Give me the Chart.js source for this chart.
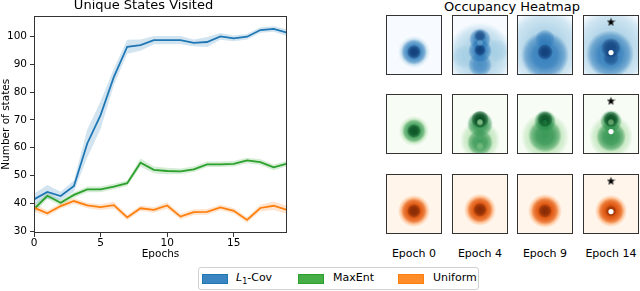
<!DOCTYPE html>
<html>
<head>
<meta charset="utf-8">
<script src="https://cdn.jsdelivr.net/npm/chart.js@4.4.1/dist/chart.umd.min.js"></script>
<style>
  body { margin: 0; width: 640px; height: 291px; background: #fff; overflow: hidden; position: relative;
         font-family: 'DejaVu Sans', sans-serif; color: #000; }
  #lineWrap { position: absolute; left: 0; top: -2px; }
  .hm { position: absolute; width: 54px; height: 58px; border: 1px solid #333; }
  .hm canvas { display: block; }
  .lbl { position: absolute; font-size: 11px; transform: translate(-50%, -50%); white-space: nowrap; }
  #hmTitle { font-size: 13px; }
  #legend { position: absolute; left: 198px; top: 267px; width: 279px; height: 21px;
            border: 1px solid #d0d0d0; border-radius: 3px; background: #fff; }
  .sw { position: absolute; top: 6px; width: 24px; height: 8px; }
  .lt { position: absolute; top: 3px; font-size: 11px; line-height: 14px; }
</style>
</head>
<body>
<div id="lineWrap"><canvas id="lineChart" width="292" height="264"></canvas></div>
<div class="lbl" id="hmTitle" style="left:512px; top:6px;">Occupancy Heatmap</div>
<div id="heatmaps"></div>
<div id="legend">
  <div class="sw" style="left:3px; background:#3b86c0; border:1px solid #1f77b4;"></div>
  <div class="lt" style="left:37px;"><i>L</i><sub style="font-size:8px; line-height:0;">1</sub>-Cov</div>
  <div class="sw" style="left:99px; background:#47ae47; border:1px solid #2ca02c;"></div>
  <div class="lt" style="left:134px;">MaxEnt</div>
  <div class="sw" style="left:199px; background:#ff8c2a; border:1px solid #ff7f0e;"></div>
  <div class="lt" style="left:234px;">Uniform</div>
</div>
<script>
//  Line chart data 
const epochs   = [0, 1, 2, 3, 4, 5, 6, 7, 8, 9, 10, 11, 12, 13, 14, 15, 16, 17, 18, 19];
const xTicks   = [0, 5, 10, 15];
const yTicks   = [30, 40, 50, 60, 70, 80, 90, 100];

const covMean  = [41.4, 44.1, 42.6, 46.2, 61.5, 71.7, 85.5, 96.3, 96.9, 98.7, 98.7, 98.7, 97.7, 98.0, 100.0, 99.3, 99.9, 102.3, 102.7, 101.4];
const covErr   = [2.0, 2.5, 1.5, 2.0, 5.0, 5.0, 3.0, 2.5, 2.0, 1.5, 1.5, 1.5, 1.2, 1.8, 1.2, 1.0, 1.0, 1.0, 1.0, 1.2];
const entMean  = [37.9, 42.7, 40.2, 43.0, 45.0, 45.0, 46.0, 47.2, 54.6, 52.0, 51.6, 51.5, 52.2, 54.0, 54.0, 54.2, 55.4, 54.8, 52.9, 54.3];
const entErr   = [1.5, 1.2, 1.0, 1.0, 1.0, 1.0, 1.0, 1.0, 1.5, 1.2, 1.2, 1.0, 1.0, 1.0, 1.0, 1.0, 1.0, 1.0, 1.0, 1.0];
const uniMean  = [38.4, 36.4, 39.0, 40.8, 39.2, 38.6, 39.3, 34.9, 38.2, 37.6, 39.2, 35.2, 36.8, 36.9, 38.5, 37.3, 34.0, 38.3, 39.1, 37.6];
const uniErr   = [1.5, 1.0, 1.0, 1.0, 1.0, 1.0, 1.2, 1.0, 1.0, 1.0, 1.2, 1.0, 1.0, 1.0, 1.0, 1.0, 1.0, 1.2, 1.5, 1.5];

//  Heatmap data: blobs [x, y, radius px, alpha, shade] per epoch 
const epochLabels = ['Epoch 0', 'Epoch 4', 'Epoch 9', 'Epoch 14'];
const covBlobs = [
  [[0.5,0.62,16,0.8,1],[0.5,0.62,13,0.85,2],[0.5,0.62,7,0.8,3]],
  [[0.5,0.68,33,0.8,1],[0.2,0.7,12,0.6,1],[0.8,0.6,12,0.6,1],[0.5,0.4,11,0.8,2],[0.5,0.6,12,0.85,2],[0.5,0.84,12,0.7,2],[0.5,0.59,6,0.8,3],[0.5,0.34,6,0.6,3],[0.5,0.46,3.5,0.4,1]],
  [[0.5,0.55,40,0.8,1],[0.5,0.68,24,0.85,2],[0.5,0.4,10,0.6,2],[0.5,0.62,8,0.8,3]],
  [[0.5,0.55,40,0.8,1],[0.48,0.66,24,0.85,2],[0.5,0.55,10,0.7,3],[0.5,0.72,8,0.5,3]]
];
const entBlobs = [
  [[0.5,0.62,15,0.8,1],[0.5,0.62,12,0.85,2],[0.5,0.62,7,0.8,3]],
  [[0.5,0.78,20,0.7,1],[0.5,0.82,13,0.8,2],[0.5,0.5,13,0.85,2],[0.5,0.42,9,0.9,3],[0.5,0.47,3.5,0.8,1],[0.5,0.88,4,0.4,1]],
  [[0.5,0.72,24,0.7,1],[0.5,0.7,17,0.85,2],[0.5,0.45,11,0.85,2],[0.5,0.42,8,0.8,3],[0.5,0.47,3,0.5,2]],
  [[0.5,0.72,22,0.7,1],[0.5,0.72,15,0.85,2],[0.5,0.45,11,0.85,2],[0.5,0.42,8,0.85,3],[0.5,0.47,3.5,0.6,1]]
];
const uniBlobs = [
  [[0.5,0.62,16,0.85,1],[0.5,0.62,13,0.9,2],[0.5,0.62,7,0.9,3]],
  [[0.5,0.6,16,0.85,1],[0.5,0.6,13,0.9,2],[0.5,0.6,7,0.9,3]],
  [[0.5,0.62,17,0.85,1],[0.5,0.62,14,0.9,2],[0.5,0.62,7,0.9,3]],
  [[0.5,0.62,16,0.85,1],[0.5,0.62,13,0.9,2],[0.5,0.62,6,0.7,3]]
];
// start marker (star) and current position (dot), shown on last epoch
const starPos = { x: 0.5, y: 0.1 };
const dotPos  = { x: 0.5, y: 0.63 };

const palettes = {
  cov: ['#f7fbff', '#9ecae1', '#2171b5', '#08306b'],
  ent: ['#f7fcf5', '#a1d99b', '#238b45', '#00441b'],
  uni: ['#fff5eb', '#fd8d3c', '#d94801', '#7f2704']
};

//  Line chart 
const font = { family: 'DejaVu Sans', size: 10.5 };

function band(mean, err, color, sign, fill) {
  return {
    data: mean.map((m, i) => m + sign * err[i]),
    borderWidth: 0, pointRadius: 0, backgroundColor: color, fill: fill, order: 10
  };
}

const frame = {
  id: 'frame',
  afterDraw(chart) {
    const { ctx, chartArea: a } = chart;
    ctx.save();
    ctx.strokeStyle = '#333';
    ctx.lineWidth = 1;
    ctx.strokeRect(Math.round(a.left) + 0.5, Math.round(a.top) + 0.5,
                   Math.round(a.right - a.left) - 1, Math.round(a.bottom - a.top) - 1);
    ctx.restore();
  }
};

new Chart(document.getElementById('lineChart'), {
  type: 'line',
  data: {
    labels: epochs,
    datasets: [
      { label: 'Uniform', data: uniMean, borderColor: '#ff7f0e', borderWidth: 1.8, pointRadius: 0, fill: false, order: 0 },
      { label: 'MaxEnt', data: entMean, borderColor: '#2ca02c', borderWidth: 1.8, pointRadius: 0, fill: false, order: 1 },
      { label: 'L1-Cov', data: covMean, borderColor: '#1f77b4', borderWidth: 1.8, pointRadius: 0, fill: false, order: 2 },
      band(covMean, covErr, 'rgba(31,119,180,0.2)', 1, '+1'),
      band(covMean, covErr, 'rgba(0,0,0,0)', -1, false),
      band(entMean, entErr, 'rgba(44,160,44,0.2)', 1, '+1'),
      band(entMean, entErr, 'rgba(0,0,0,0)', -1, false),
      band(uniMean, uniErr, 'rgba(255,127,14,0.2)', 1, '+1'),
      band(uniMean, uniErr, 'rgba(0,0,0,0)', -1, false)
    ].map(d => Object.assign({ tension: 0 }, d))
  },
  options: {
    responsive: false,
    animation: false,
    events: [],
    layout: { padding: { left: 0, right: 5, top: 0, bottom: 0 } },
    plugins: {
      legend: { display: false },
      tooltip: { enabled: false },
      title: {
        display: true, text: 'Unique States Visited', color: '#000',
        font: { family: 'DejaVu Sans', size: 13, weight: 'normal' },
        padding: { top: 0, bottom: 2 }
      }
    },
    scales: {
      x: {
        type: 'linear', min: 0, max: 19,
        afterBuildTicks: s => { s.ticks = xTicks.map(v => ({ value: v })); },
        afterFit: s => { s.height = 29; },
        ticks: { color: '#000', font: font, padding: 0, maxRotation: 0 },
        grid: { drawOnChartArea: false, drawTicks: true, tickLength: 4, tickColor: '#333' },
        border: { display: false },
        title: { display: true, text: 'Epochs', color: '#000', font: font, padding: { top: 0, bottom: 1 } }
      },
      y: {
        min: 29.3, max: 107.5,
        afterBuildTicks: s => { s.ticks = yTicks.map(v => ({ value: v })); },
        afterFit: s => { s.width = 34; },
        ticks: { color: '#000', font: font, padding: 3 },
        grid: { drawOnChartArea: false, drawTicks: true, tickLength: 4, tickColor: '#333' },
        border: { display: false },
        title: { display: true, text: 'Number of states', color: '#000', font: font, padding: { top: 0, bottom: 0 } }
      }
    }
  },
  plugins: [frame]
});

//  Heatmaps 
function makeStar(size) {
  const c = document.createElement('canvas');
  c.width = c.height = size;
  const g = c.getContext('2d');
  g.fillStyle = '#000';
  g.beginPath();
  for (let i = 0; i < 10; i++) {
    const r = i % 2 ? size * 0.2 : size * 0.5;
    const a = -Math.PI / 2 + i * Math.PI / 5;
    g.lineTo(size / 2 + r * Math.cos(a), size / 2 + 0.5 + r * Math.sin(a));
  }
  g.closePath();
  g.fill();
  return c;
}
const starImg = makeStar(9);

function hexA(hex, a) {
  const n = parseInt(hex.slice(1), 16);
  return `rgba(${n >> 16},${(n >> 8) & 255},${n & 255},${a})`;
}

function blobFill(pal) {
  return ctx => {
    const p = ctx.raw;
    if (!p || !ctx.chart.chartArea) return 'rgba(0,0,0,0)';
    const ch = ctx.chart;
    const x = ch.scales.x.getPixelForValue(p.x);
    const y = ch.scales.y.getPixelForValue(p.y);
    const g = ch.ctx.createRadialGradient(x, y, 0, x, y, p.r);
    const col = pal[p.s];
    g.addColorStop(0, hexA(col, p.a));
    g.addColorStop(0.5, hexA(col, p.a * 0.9));
    g.addColorStop(0.8, hexA(col, p.a * 0.55));
    g.addColorStop(1, hexA(col, 0));
    return g;
  };
}

const rows = [
  { blobs: covBlobs, pal: palettes.cov },
  { blobs: entBlobs, pal: palettes.ent },
  { blobs: uniBlobs, pal: palettes.uni }
];
const colLeft = [386, 452, 517, 583];
const rowTop  = [15, 94, 173.5];
const host = document.getElementById('heatmaps');

rows.forEach((row, r) => {
  row.blobs.forEach((blobs, c) => {
    const div = document.createElement('div');
    div.className = 'hm';
    div.style.left = colLeft[c] + 'px';
    div.style.top = rowTop[r] + 'px';
    div.style.background = row.pal[0];
    const cv = document.createElement('canvas');
    cv.width = 54; cv.height = 58;
    div.appendChild(cv);
    host.appendChild(div);

    const datasets = [{
      data: blobs.map(b => ({ x: b[0], y: b[1], r: b[2], a: b[3], s: b[4] })),
      backgroundColor: blobFill(row.pal),
      borderWidth: 0, clip: false, order: 2
    }];
    if (c === 3) {
      datasets.push({ data: [{ x: dotPos.x, y: dotPos.y, r: 2.6 }], backgroundColor: '#fff', borderWidth: 0, order: 1 });
      datasets.push({ data: [{ x: starPos.x, y: starPos.y, r: 4 }], pointStyle: starImg, backgroundColor: '#000', borderWidth: 0, order: 0 });
    }

    new Chart(cv, {
      type: 'bubble',
      data: { datasets: datasets },
      options: {
        responsive: false, animation: false, events: [],
        layout: { autoPadding: false, padding: 0 },
        plugins: { legend: { display: false }, tooltip: { enabled: false } },
        scales: {
          x: { min: 0, max: 1, display: false },
          y: { min: 0, max: 1, reverse: true, display: false }
        }
      }
    });
  });
});

epochLabels.forEach((t, c) => {
  const d = document.createElement('div');
  d.className = 'lbl';
  d.textContent = t;
  d.style.left = (colLeft[c] + 28) + 'px';
  d.style.top = '253px';
  host.appendChild(d);
});
</script>
</body>
</html>
